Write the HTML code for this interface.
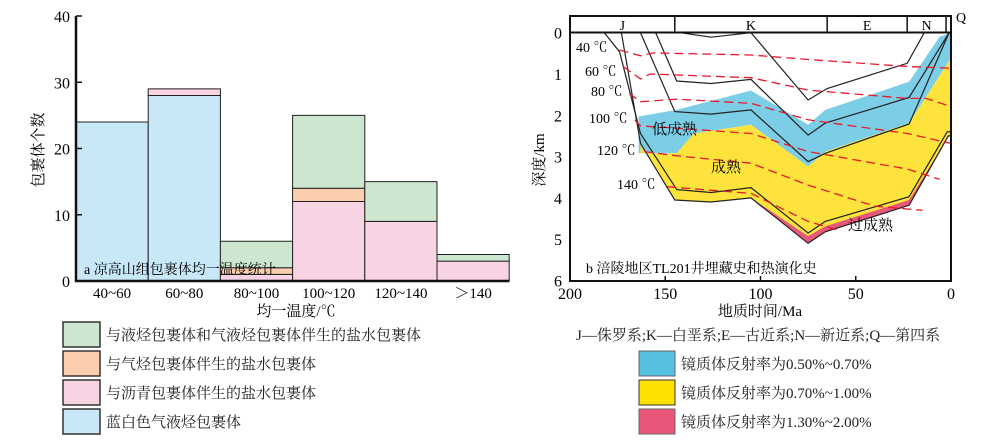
<!DOCTYPE html>
<html><head><meta charset="utf-8"><style>
body{margin:0;background:#fff;}
svg{display:block;font-family:"Liberation Serif","Noto Serif CJK SC",serif;}
</style></head><body>
<svg width="1000" height="444" viewBox="0 0 1000 444">
<g id="left"></g>
<g id="right"></g>
<g font-size="15" fill="#222">
 <rect x="63" y="322" width="37" height="25" fill="#cce6cf" stroke="#333" stroke-width="1.5"/>
 <text x="106" y="340">与液烃包裹体和气液烃包裹体伴生的盐水包裹体</text>
 <rect x="63" y="351" width="37" height="25" fill="#fbcfae" stroke="#333" stroke-width="1.5"/>
 <text x="106" y="369">与气烃包裹体伴生的盐水包裹体</text>
 <rect x="63" y="380" width="37" height="25" fill="#f8d3e4" stroke="#333" stroke-width="1.5"/>
 <text x="106" y="398">与沥青包裹体伴生的盐水包裹体</text>
 <rect x="63" y="409" width="37" height="25" fill="#c8e8f8" stroke="#333" stroke-width="1.5"/>
 <text x="106" y="427">蓝白色气液烃包裹体</text>
 <text x="576" y="340">J—侏罗系;K—白垩系;E—古近系;N—新近系;Q—第四系</text>
 <rect x="639" y="351" width="36" height="25" fill="#55bfdf" stroke="#666"/>
 <text x="681" y="369">镜质体反射率为0.50%~0.70%</text>
 <rect x="639" y="380" width="36" height="25" fill="#ffe100" stroke="#333"/>
 <text x="681" y="398">镜质体反射率为0.70%~1.00%</text>
 <rect x="639" y="409" width="36" height="25" fill="#e8567a" stroke="#666"/>
 <text x="681" y="427">镜质体反射率为1.30%~2.00%</text>
</g>
</svg>
<script>
const NS="http://www.w3.org/2000/svg";
function mk(p,t,a){const e=document.createElementNS(NS,t);for(const k in a)e.setAttribute(k,a[k]);p.appendChild(e);return e;}
// ---- Left histogram data ----
const categories=["40~60","60~80","80~100","100~120","120~140","＞140"];
const pinkVals=[0,0,1,12,9,3];
const orangeVals=[0,0,1,2,0,0];
const greenVals=[0,0,4,11,6,1];
const blueVals=[24,28,0,0,0,0];
const pinkTop=[0,1,0,0,0,0];
const yTicks=[0,10,20,30,40];
const L=document.getElementById('left');
const x0=76,bw=72.2,yb=281,yt=16;
const ys=v=>yb-(yb-yt)*v/40;
const segs=[["blue",blueVals,"#c8e8f8"],["pink",pinkVals,"#f8d3e4"],["orange",orangeVals,"#fbcfae"],["green",greenVals,"#cce6cf"],["pinktop",pinkTop,"#f8d3e4"]];
categories.forEach((c,i)=>{
 let base=0;
 segs.forEach(s=>{const v=s[1][i];if(v>0){
  const r=mk(L,'rect',{x:x0+i*bw,y:ys(base+v),width:bw,height:ys(base)-ys(base+v),fill:s[2],stroke:'#222','stroke-width':1});
  
  
  base+=v;}});
 const t=mk(L,'text',{x:x0+i*bw+bw/2,y:298,'text-anchor':'middle','font-size':15});
 t.textContent=c;
 
 
});
yTicks.forEach(v=>{
 const l=mk(L,'line',{x1:x0,x2:x0+6,y1:ys(v),y2:ys(v),stroke:'#111','stroke-width':1.5});
 
 
 const t=mk(L,'text',{x:70,y:ys(v)+6,'text-anchor':'end','font-size':16});
 t.textContent=v;
 
 
});
const ax=mk(L,'path',{d:`M${x0} ${yt}V${yb}H${x0+6*bw}`,fill:'none',stroke:'#111','stroke-width':2.5});


let tt=mk(L,'text',{x:84,y:274,'font-size':14});tt.textContent='a 凉高山组包裹体均一温度统计';


tt=mk(L,'text',{x:296,y:316,'text-anchor':'middle','font-size':15});tt.textContent='均一温度/℃';


tt=mk(L,'text',{x:0,y:0,'text-anchor':'middle','font-size':15,transform:'translate(43,150) rotate(-90)'});tt.textContent='包裹体个数';



// ---- Right burial history data (time Ma, depth km) ----
const burial1=[[182,0],[174,0.46],[163,2.44],[144,3.8],[126,3.87],[105,3.75],[75,4.85],[66,4.57],[22,3.97],[2,2.4],[0,2.4]];
const burial2=[[173,0],[163,2.68],[145,4.05],[126,4.1],[105,4.0],[75,5.1],[66,4.82],[22,4.18],[1.4,2.5],[0,2.5]];
const burial3=[[163,0],[145,1.91],[126,1.97],[105,1.87],[75,3.12],[66,2.92],[22,2.21],[1,0]];
const burial4=[[155,0],[144,1.17],[126,1.23],[105,1.13],[75,2.48],[66,2.19],[22,1.57],[1,0]];
const burial5=[[142,0],[126,0.11],[105,0],[75,1.63],[65,1.35],[23,0.74],[14,0]];
const blueTop=[[164,2.03],[144,1.87],[105,1.4],[75,2.23],[66,1.87],[22,1.19],[6,0.1],[0,0]];
const yellowTop=[[163,2.92],[144,2.92],[135,2.44],[105,2.23],[75,3.24],[66,2.88],[22,2.19],[0.5,0.65],[0,0.65]];
const pinkTopB=[[105,4.0],[75,4.93],[66,4.69],[22,4.05],[1.4,2.52]];
const iso40=[[174,0.42],[163,0.56],[156,0.49],[105,0.54],[75,0.65],[22,0.82],[0,0.86]];
const iso60=[[172,0.82],[163,1.12],[158,1.0],[105,1.09],[75,1.39],[23,1.59],[13,1.59],[0,1.79]];
const iso80=[[169,1.47],[163,1.67],[144,1.61],[105,1.71],[75,2.11],[23,2.44],[0,2.68]];
const iso100=[[166,2.11],[163,2.26],[144,2.31],[105,2.44],[75,2.88],[23,3.3],[6,3.55]];
const iso120=[[161,2.88],[144,2.98],[105,3.16],[75,3.69],[40,4.2],[15,4.3]];
const iso140=[[149,3.73],[130,3.8],[105,3.89],[75,4.57],[58,4.8]];
const periods=[["J",200,145],["K",145,65],["E",65,23],["N",23,2.6]];
const depthTicks=[0,1,2,3,4,5,6];
const timeTicks=[200,150,100,50,0];
const R=document.getElementById('right');
const tx=t=>951-(951-570)*t/200, dy=d=>32.7+41.3*d;
const pts=a=>a.map(p=>tx(p[0]).toFixed(1)+','+dy(p[1]).toFixed(1)).join(' ');
function poly(a,b,fill,name){const e=mk(R,'polygon',{points:pts(a)+' '+pts(b.slice().reverse()),fill:fill});
 
 }
poly(blueTop,[[164,2.92],...yellowTop.slice(1)],'#7ccde6','ro-zone-low');
poly(yellowTop,burial2.filter(p=>p[0]<=163),'#fde33c','ro-zone-mid');
poly(pinkTopB,burial2.filter(p=>p[0]<=105),'#e8567a','ro-zone-high');
[burial1,burial2,burial3,burial4,burial5].forEach((b,i)=>{
 const e=mk(R,'polyline',{points:pts(b),fill:'none',stroke:'#222','stroke-width':1.2});
 
 
});
[[iso40,'40 ℃',576,52],[iso60,'60 ℃',585,76],[iso80,'80 ℃',591,96],[iso100,'100 ℃',589,123],[iso120,'120 ℃',597,155],[iso140,'140 ℃',617,189]].forEach(s=>{
 const e=mk(R,'polyline',{points:pts(s[0]),fill:'none',stroke:'#e8192c','stroke-width':1.3,'stroke-dasharray':'9,5'});
 
 
 const t=mk(R,'text',{x:s[2],y:s[3],'font-size':14});t.textContent=s[1];
 
 
});
// frame and period band
const fr=mk(R,'rect',{x:570,y:16,width:381,height:265,fill:'none',stroke:'#111','stroke-width':2});


const bl=mk(R,'line',{x1:570,x2:951,y1:32.5,y2:32.5,stroke:'#111','stroke-width':2});


periods.forEach(p=>{
 const l=mk(R,'line',{x1:tx(p[2]),x2:tx(p[2]),y1:16,y2:32,stroke:'#111','stroke-width':1.5});
 
 
 const t=mk(R,'text',{x:(tx(p[1])+tx(p[2]))/2,y:30,'text-anchor':'middle','font-size':14});t.textContent=p[0];
 
 
});
let q=mk(R,'text',{x:956,y:22,'font-size':14});q.textContent='Q';


depthTicks.forEach(d=>{
 const t=mk(R,'text',{x:558,y:dy(d)+6,'text-anchor':'middle','font-size':16});t.textContent=d;
 
 
});
timeTicks.forEach(v=>{
 const l=mk(R,'line',{x1:tx(v),x2:tx(v),y1:281,y2:276,stroke:'#111','stroke-width':1.5});
 
 
 const t=mk(R,'text',{x:tx(v),y:299,'text-anchor':'middle','font-size':16});t.textContent=v;
 
 
});
[['低成熟',652,134,'zone-label-low'],['成熟',711,172,'zone-label-mature'],['过成熟',848,230,'zone-label-over']].forEach(s=>{
 const t=mk(R,'text',{x:s[1],y:s[2],'font-size':15});t.textContent=s[0];
 
 
});
tt=mk(R,'text',{x:586,y:273,'font-size':14});tt.textContent='b 涪陵地区TL201井埋藏史和热演化史';


tt=mk(R,'text',{x:760,y:316,'text-anchor':'middle','font-size':15});tt.textContent='地质时间/Ma';


tt=mk(R,'text',{x:0,y:0,'text-anchor':'middle','font-size':15,transform:'translate(544,160) rotate(-90)'});tt.textContent='深度/km';


</script>
</body></html>
